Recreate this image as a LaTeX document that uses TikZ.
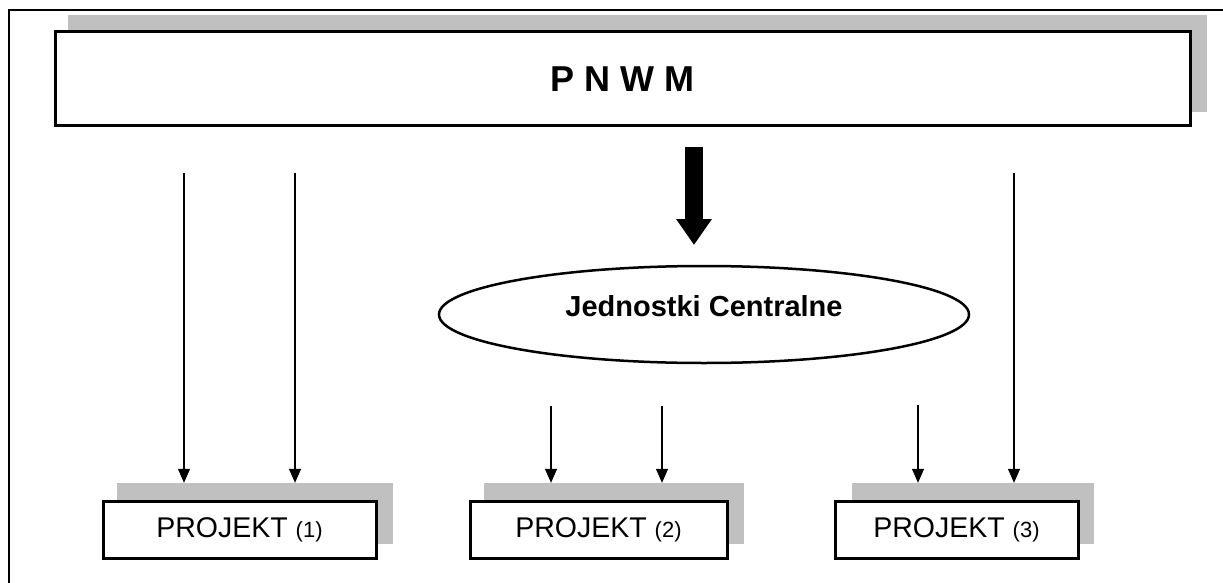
\documentclass[tikz,border=0pt]{standalone}
\usepackage{fontspec}
\setmainfont{Liberation Sans}
\usetikzlibrary{arrows.meta,shapes.geometric}
\definecolor{shadowgray}{RGB}{192,192,192}

\begin{document}
\begin{tikzpicture}[x=1pt, y=-1pt,
		mainbox/.style={draw, line width=3pt, fill=white, inner sep=0pt},
		shadowbox/.style={fill=shadowgray, inner sep=0pt},
		proj/.style={mainbox, minimum height=57pt, font=\fontsize{28.5}{30}\selectfont},
		thinarrow/.style={line width=1.2pt, -{Triangle[width=12pt,length=14pt]}}]
		\useasboundingbox (0,0) rectangle (1223,583);
		\draw[line width=2pt] (9,583) |- (1223,10);

		% top
		\node[shadowbox, minimum width=1139pt, minimum height=97pt] (s0) at (637.5,63.5) {};
		\node[mainbox, minimum width=1135pt, minimum height=94pt, font=\bfseries\fontsize{36}{40}\selectfont] (pnwm) at (622.5,79) {P N W M};

		\node[draw, ellipse, line width=2.5pt, minimum width=530pt, minimum height=97pt, inner sep=0pt, text depth=18pt, font=\bfseries\fontsize{29}{32}\selectfont] (jc) at (704,314.5) {Jednostki Centralne};

		% projects
		\node[shadowbox, minimum width=276pt, minimum height=61pt] (s1) at (255,513.5) {};
		\node[shadowbox, minimum width=260pt, minimum height=61pt] (s2) at (614,513.5) {};
		\node[shadowbox, minimum width=242pt, minimum height=61pt] (s3) at (973,513.5) {};
		\node[proj, minimum width=273pt] (p1) at (239.5,529.5) {PROJEKT {\fontsize{22}{24}\selectfont (1)}};
		\node[proj, minimum width=257pt] (p2) at (598.5,530) {PROJEKT {\fontsize{22}{24}\selectfont (2)}};
		\node[proj, minimum width=243pt] (p3) at (956.5,529.5) {PROJEKT {\fontsize{22}{24}\selectfont (3)}};

		\coordinate (b0) at (694,147);
		\coordinate (b1) at (694,245);
		\draw[line width=18pt, -{Triangle[width=34pt,length=26pt]}] (b0) -- (b1);

		\coordinate (a1) at (184,173);
		\coordinate (a2) at (295,173);
		\coordinate (a3) at (551,406);
		\coordinate (a4) at (662,406);
		\coordinate (a5) at (918,405);
		\coordinate (a6) at (1014,173);

		\draw[thinarrow] (a1) -- (a1 |- s1.north);
		\draw[thinarrow] (a2) -- (a2 |- s1.north);
		\draw[thinarrow] (a3) -- (a3 |- s2.north);
		\draw[thinarrow] (a4) -- (a4 |- s2.north);
		\draw[thinarrow] (a5) -- (a5 |- s3.north);
		\draw[thinarrow] (a6) -- (a6 |- s3.north);
	\end{tikzpicture}
\end{document}
